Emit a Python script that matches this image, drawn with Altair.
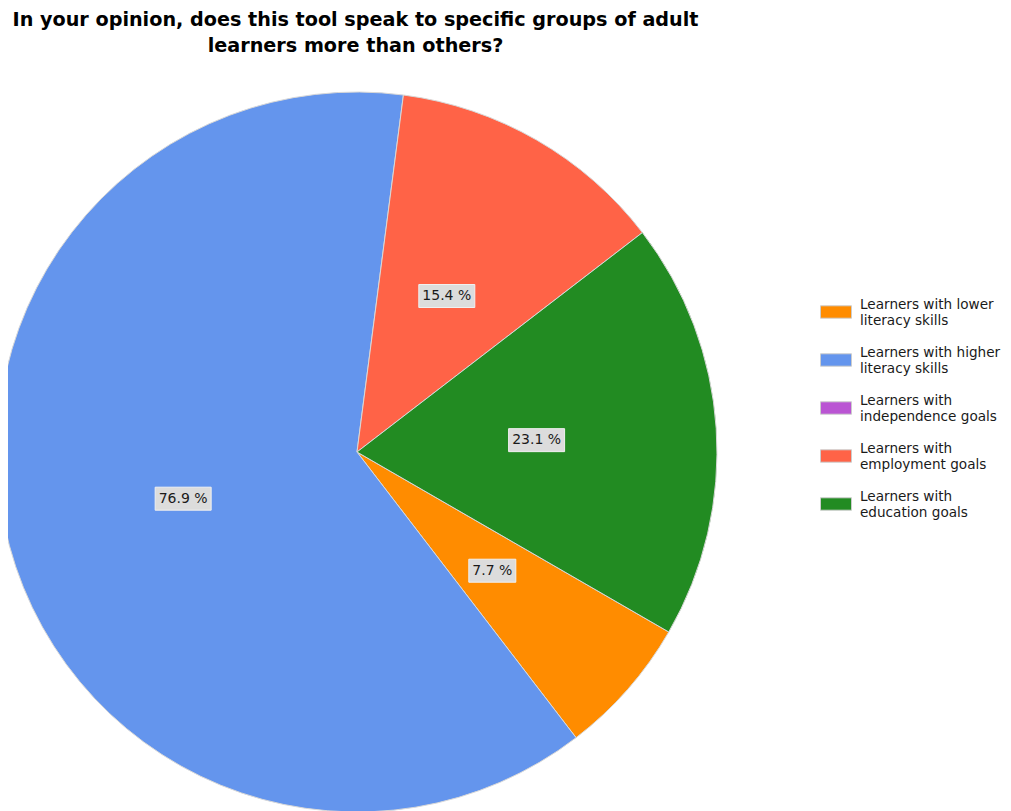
import math
import altair as alt
import pandas as pd

# ---- data ----
categories = [
    "Learners with lower\nliteracy skills",
    "Learners with higher\nliteracy skills",
    "Learners with\nindependence goals",
    "Learners with\nemployment goals",
    "Learners with\neducation goals",
]
percents = [7.7, 76.9, 0.0, 15.4, 23.1]
colors = ["#FF8C00", "#6495ED", "#BA55D3", "#FF6347", "#228B22"]
title_lines = [
    "In your opinion, does this tool speak to specific groups of adult",
    "learners more than others?",
]

df = pd.DataFrame({"category": categories, "percent": percents, "idx": list(range(len(categories)))})

START = 2 * math.pi / 3
R = 360
CX, CY = 349, 384  # plot-area coordinates of pie centre
FONT = "DejaVu Sans"
W = 995

base = alt.Chart(df).transform_filter("datum.percent > 0")

arcs = base.mark_arc(outerRadius=R, stroke="#d8d8d8", strokeWidth=1).encode(
    theta=alt.Theta("percent:Q", stack=True, scale=alt.Scale(range=[START, START + 2 * math.pi])),
    color=alt.Color(
        "category:N",
        scale=alt.Scale(domain=categories, range=colors),
        legend=alt.Legend(
            title=None,
            orient="none",
            legendX=812,
            legendY=228,
            labelExpr="split(datum.label, '\\n')",
            labelFont=FONT,
            labelFontSize=13.6,
            labelColor="#1a1a1a",
            labelOffset=8,
            labelBaseline="bottom",
            symbolType="M-1,-0.4H1V0.4H-1Z",
            symbolSize=961,
            symbolStrokeColor="#cccccc",
            symbolStrokeWidth=1,
            symbolOpacity=1,
            rowPadding=16,
            padding=0,
        ),
    ),
    order=alt.Order("idx:Q"),
    x=alt.value(CX),
    y=alt.value(CY),
)

xs = alt.Scale(domain=[-1, 1], range=[CX - R, CX + R], nice=False, zero=False)
ys = alt.Scale(domain=[-1, 1], range=[CY + R, CY - R], nice=False, zero=False)

lab = base.transform_window(
    cum="sum(percent)", sort=[alt.SortField("idx")], frame=[None, 0]
).transform_joinaggregate(total="sum(percent)").transform_calculate(
    mid=f"{START} + 2*PI*(datum.cum - datum.percent/2)/datum.total",
    lx="0.5*sin(datum.mid)",
    ly="0.5*cos(datum.mid)",
    label="format(datum.percent, '.1f') + ' %'",
).transform_calculate(
    hw=f"(9*length(datum.label)+2)/2/{R}",
    hh=f"11.5/{R}",
).transform_calculate(
    x1="datum.lx - datum.hw",
    x2="datum.lx + datum.hw",
    y1="datum.ly - datum.hh",
    y2="datum.ly + datum.hh",
)

boxes = lab.mark_rect(fill="#dcdcdc", stroke="#f0f0f0", strokeWidth=1).encode(
    x=alt.X("x1:Q", scale=xs, axis=None),
    x2="x2:Q",
    y=alt.Y("y1:Q", scale=ys, axis=None),
    y2="y2:Q",
)

texts = lab.mark_text(font=FONT, fontSize=14, color="#1a1a1a").encode(
    x=alt.X("lx:Q", scale=xs, axis=None),
    y=alt.Y("ly:Q", scale=ys, axis=None),
    text="label:N",
)

chart = alt.layer(arcs, boxes, texts).properties(
    width=W,
    height=743,
    padding={"top": 60, "left": 0, "right": 0, "bottom": 0},
    autosize=alt.AutoSizeParams(type="none"),
    title=alt.TitleParams(
        text=title_lines,
        font=FONT,
        fontSize=19.2,
        fontWeight="bold",
        color="#000000",
        anchor="middle",
        dx=347.5 - W / 2,
        offset=12,
        lineHeight=25.5,
    ),
).configure_view(stroke=None)

chart.save("out.html", embed_options={"renderer": "svg", "actions": False})
